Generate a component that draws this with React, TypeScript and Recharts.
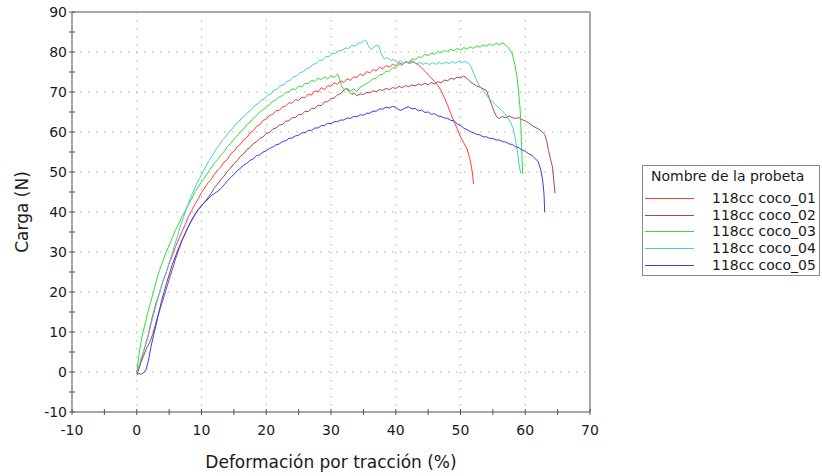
import { LineChart, Line, XAxis, YAxis, CartesianGrid, ReferenceLine } from "recharts";

// strain (%) , load (N) pairs
const coco01 = [
  [0, 0], [0.4, 1.5], [0.8, 3.6], [1.2, 6], [1.7, 8.8], [2.1, 11.8], [2.5, 14.4], [3, 17.4], [3.5, 19.8], [4, 22.5],
  [4.5, 24.6], [5, 27.2], [5.5, 29.1], [6, 31.4], [6.5, 33.3], [7, 35.1], [7.5, 36.9], [8, 38.9], [8.5, 40.4], [9, 42],
  [9.5, 43.3], [10, 44.9], [10.5, 46], [11, 47.3], [11.5, 48.1], [12, 49.5], [12.5, 50.5], [13, 51.3], [13.5, 52.5], [14, 53.1],
  [14.5, 54.5], [15, 55.2], [15.5, 56.3], [16, 56.9], [16.5, 58.1], [17, 58.6], [17.5, 59.8], [18, 60.3], [18.5, 61.4], [19, 61.8],
  [19.5, 62.9], [20, 63.2], [20.5, 64.1], [21, 64.4], [21.5, 65.3], [22, 65.4], [22.5, 66.3], [23, 66.5], [23.5, 67.3], [24, 67.2],
  [24.5, 68.1], [25, 67.9], [25.5, 68.7], [26, 68.6], [26.5, 69.5], [27, 69.2], [27.5, 70.3], [28, 70], [28.5, 71.1], [29, 70.6],
  [29.5, 71.6], [30, 71.4], [30.5, 72.3], [31, 71.9], [31.5, 72.8], [32, 72.4], [32.5, 73.3], [33, 72.9], [33.5, 73.8], [34, 73.6],
  [34.5, 74.5], [35, 74.1], [35.5, 75.1], [36, 74.8], [36.5, 75.6], [37, 75.3], [37.5, 76.2], [38, 75.8], [38.5, 76.6], [39, 76.2],
  [39.5, 76.9], [40, 76.6], [40.5, 77.3], [41, 76.9], [41.5, 77.6], [42, 77.2], [42.5, 77.8], [43, 77.3], [43.5, 76.8], [44, 76],
  [44.5, 75.2], [45, 74.3], [45.5, 73.5], [46, 72.6], [46.5, 71.6], [47, 70.4], [47.5, 68.6], [48, 66.7], [48.5, 64.6], [49, 62.6],
  [49.5, 60.8], [50, 58.8], [50.5, 57.3], [51, 55.8], [51.4, 53.6], [51.7, 51.2], [51.9, 49], [52, 47],
];

const coco02 = [
  [0, -0.5], [0.3, 0.5], [0.6, 2.2], [1, 3.8], [1.5, 5.9], [2, 7.4], [2.5, 9.6], [3, 12.6], [3.5, 15.2], [4, 17.8],
  [4.5, 20.4], [5, 23.1], [5.5, 25.6], [6, 28.3], [6.5, 30.6], [7, 32.9], [7.5, 34.6], [8, 36.5], [8.5, 38], [9, 39.5],
  [9.5, 40.6], [10, 41.6], [10.5, 42.5], [11, 43.6], [11.5, 44.7], [12, 46.1], [12.5, 47], [13, 48.1], [13.5, 49], [14, 50.2],
  [14.5, 51], [15, 52.1], [15.5, 52.8], [16, 53.9], [16.5, 54.5], [17, 55.6], [17.5, 56.1], [18, 57.1], [18.5, 57.5], [19, 58.4],
  [19.5, 58.8], [20, 59.6], [20.5, 59.9], [21, 60.7], [21.5, 61], [22, 61.7], [22.5, 61.9], [23, 62.7], [23.5, 62.8], [24, 63.6],
  [24.5, 63.6], [25, 64.4], [25.5, 64.4], [26, 65.2], [26.5, 65.1], [27, 65.9], [27.5, 65.9], [28, 66.7], [28.5, 66.6], [29, 67.5],
  [29.5, 67.6], [30, 68.4], [30.5, 68.5], [31, 69.3], [31.5, 69.6], [32, 70.5], [32.4, 70.9], [32.8, 70.1], [33.2, 69.4], [33.6, 69.7],
  [34, 69.1], [34.5, 69.5], [35, 69.4], [35.5, 69.9], [36, 69.8], [36.5, 70.3], [37, 70.1], [37.5, 70.6], [38, 70.4], [38.5, 70.9],
  [39, 70.6], [39.5, 71.1], [40, 70.9], [40.5, 71.4], [41, 71.1], [41.5, 71.6], [42, 71.3], [42.5, 71.8], [43, 71.5], [43.5, 72],
  [44, 71.7], [44.5, 72.2], [45, 71.8], [45.5, 72.4], [46, 72], [46.5, 72.6], [47, 72.3], [47.5, 73], [48, 72.8], [48.5, 73.4],
  [49, 73.2], [49.5, 73.7], [50, 73.5], [50.5, 74], [51, 73.4], [51.5, 72.6], [52, 72], [52.5, 71.5], [53, 71.2], [53.5, 70.8],
  [54, 70.4], [54.4, 68.6], [54.8, 66.8], [55.2, 65.1], [55.6, 63.8], [56, 63.4], [56.5, 63.9], [57, 63.5], [57.5, 64], [58, 63.6],
  [58.5, 63.4], [59, 63.6], [59.5, 63.1], [60, 62.8], [60.5, 62.3], [61, 61.7], [61.5, 61.2], [62, 60.8], [62.5, 60.2], [63, 59.4],
  [63.3, 57.8], [63.6, 55.4], [63.9, 53.2], [64.2, 51.3], [64.4, 48], [64.6, 44.7],
];

const coco03 = [
  [0, 0], [0.2, 2.5], [0.5, 6], [0.8, 8.8], [1.2, 11.5], [1.6, 14.2], [2, 16.6], [2.5, 19.5], [3, 22.6], [3.5, 25.4],
  [4, 27.6], [4.5, 29.8], [5, 31.7], [5.5, 33.6], [6, 35.6], [6.5, 37.1], [7, 38.9], [7.5, 40.3], [8, 42], [8.5, 43.3],
  [9, 45.1], [9.5, 46.2], [10, 47.6], [10.5, 48.6], [11, 49.9], [11.5, 51], [12, 52.2], [12.5, 53.1], [13, 54.3], [13.5, 55.1],
  [14, 56.4], [14.5, 57.1], [15, 58.2], [15.5, 59], [16, 60.1], [16.5, 60.7], [17, 61.9], [17.5, 62.4], [18, 63.5], [18.5, 64],
  [19, 65], [19.5, 65.6], [20, 66.4], [20.5, 66.8], [21, 67.7], [21.5, 68], [22, 68.8], [22.5, 69.1], [23, 69.9], [23.5, 70],
  [24, 70.8], [24.5, 70.6], [25, 71.5], [25.5, 71.2], [26, 72.2], [26.5, 72.1], [27, 73], [27.5, 72.6], [28, 73.4], [28.5, 73.1],
  [29, 73.8], [29.5, 73.3], [30, 74.1], [30.5, 73.6], [31, 74.5], [31.3, 73.4], [31.6, 71.5], [32, 70.6], [32.5, 70.9], [33, 70.3],
  [33.5, 70.8], [34, 70.1], [34.5, 71.2], [35, 71.6], [35.5, 72.1], [36, 72.6], [36.5, 73.3], [37, 73.4], [37.5, 74.3], [38, 74.4],
  [38.5, 75.2], [39, 75.2], [39.5, 76], [40, 76.1], [40.5, 76.8], [41, 76.7], [41.5, 77.5], [42, 77.4], [42.5, 78.3], [43, 78.1],
  [43.5, 78.8], [44, 78.6], [44.5, 79.4], [45, 79.1], [45.5, 79.7], [46, 79.4], [46.5, 80.1], [47, 79.8], [47.5, 80.4], [48, 80.1],
  [48.5, 80.7], [49, 80.3], [49.5, 80.9], [50, 80.5], [50.5, 81.1], [51, 80.7], [51.5, 81.3], [52, 80.9], [52.5, 81.5], [53, 81.2],
  [53.5, 81.8], [54, 81.4], [54.5, 82], [55, 81.6], [55.5, 82.2], [56, 81.8], [56.5, 82.3], [57, 81.7], [57.5, 80.9], [58, 79.5],
  [58.4, 76.8], [58.8, 73], [59, 69.5], [59.2, 66], [59.3, 62.5], [59.4, 58], [59.5, 53.5], [59.6, 49.5],
];

const coco04 = [
  [0, 0], [0.3, 1.3], [0.7, 3.5], [1.2, 5.8], [1.7, 8.5], [2.2, 11.8], [2.7, 14.9], [3.2, 18], [3.7, 20.8], [4.2, 23.3],
  [4.7, 25.7], [5.2, 28.3], [5.7, 31], [6.2, 33.5], [6.7, 36.2], [7.2, 38.6], [7.7, 41], [8.2, 43.1], [8.7, 45], [9.2, 46.9],
  [9.7, 48.4], [10.2, 50], [10.7, 51.5], [11.2, 52.9], [11.7, 54.2], [12.2, 55.6], [12.7, 56.6], [13.2, 57.9], [13.7, 58.7], [14.2, 59.9],
  [14.7, 60.7], [15.2, 61.8], [15.7, 62.4], [16.2, 63.5], [16.7, 64], [17.2, 65], [17.7, 65.6], [18.2, 66.6], [18.7, 67], [19.2, 67.9],
  [19.7, 68.3], [20.2, 69.2], [20.7, 69.5], [21.2, 70.5], [21.7, 70.7], [22.2, 71.6], [22.7, 71.8], [23.2, 72.7], [23.7, 72.9], [24.2, 73.8],
  [24.7, 74], [25.2, 74.9], [25.7, 75], [26.2, 75.9], [26.7, 76], [27.2, 76.9], [27.7, 77.1], [28.2, 77.9], [28.7, 78], [29.2, 78.8],
  [29.7, 78.9], [30.2, 79.6], [30.7, 79.7], [31.2, 80.3], [31.7, 80.4], [32.2, 81], [32.7, 80.9], [33.2, 81.6], [33.7, 81.5], [34.2, 82.2],
  [34.7, 82.3], [35.2, 83], [35.5, 82.6], [35.8, 81.4], [36.2, 80.6], [36.6, 81.2], [37, 81.7], [37.4, 81.5], [37.8, 79.4], [38.2, 78.3],
  [38.7, 78.6], [39.2, 77.9], [39.7, 78.1], [40.2, 77.4], [40.7, 77.8], [41.2, 77.2], [41.7, 77.6], [42.2, 77.1], [42.7, 77.5], [43.2, 77],
  [43.7, 77.4], [44.2, 76.9], [44.7, 77.3], [45.2, 76.8], [45.7, 77.3], [46.2, 76.9], [46.7, 77.4], [47.2, 77], [47.7, 77.5], [48.2, 77.1],
  [48.7, 77.6], [49.2, 77.2], [49.7, 77.7], [50.2, 77.3], [50.7, 77.6], [51.2, 77.2], [51.6, 76.4], [52, 74.8], [52.4, 73.2], [52.8, 71.9],
  [53.3, 70.7], [53.8, 69.6], [54.3, 68.6], [54.8, 67.8], [55.3, 67], [55.8, 66.2], [56.3, 65.5], [56.8, 64.7], [57.3, 63.6], [57.8, 62.2],
  [58.2, 60.5], [58.5, 58], [58.8, 55], [59, 52.3], [59.2, 50.5], [59.3, 49.7],
];

const coco05 = [
  [0, -0.8], [0.3, -0.3], [0.6, -0.6], [1, -0.2], [1.4, 0.4], [1.8, 2.8], [2.2, 6.3], [2.6, 9.2], [3, 11.8], [3.4, 14.8],
  [3.8, 17.6], [4.2, 19.9], [4.6, 22.2], [5, 24.3], [5.5, 26.9], [6, 29], [6.5, 31.1], [7, 33], [7.5, 34.8], [8, 36.4],
  [8.5, 38], [9, 39.3], [9.5, 40.6], [10, 41.5], [10.5, 42.5], [11, 43.2], [11.5, 44.1], [12, 44.6], [12.5, 45.2], [13, 45.9],
  [13.5, 46.8], [14, 47.8], [14.5, 48.6], [15, 49.4], [15.5, 50.3], [16, 50.9], [16.5, 51.7], [17, 52.2], [17.5, 52.9], [18, 53.3],
  [18.5, 54.1], [19, 54.3], [19.5, 55], [20, 55.3], [20.5, 55.9], [21, 56.2], [21.5, 56.8], [22, 57], [22.5, 57.6], [23, 57.8],
  [23.5, 58.4], [24, 58.5], [24.5, 59], [25, 59.2], [25.5, 59.8], [26, 59.8], [26.5, 60.4], [27, 60.4], [27.5, 61], [28, 61],
  [28.5, 61.6], [29, 61.6], [29.5, 62.2], [30, 62.1], [30.5, 62.6], [31, 62.6], [31.5, 63], [32, 63], [32.5, 63.5], [33, 63.4],
  [33.5, 63.9], [34, 63.8], [34.5, 64.3], [35, 64.2], [35.5, 64.7], [36, 64.7], [36.5, 65.2], [37, 65.2], [37.5, 65.8], [38, 65.7],
  [38.5, 66.2], [39, 66], [39.5, 66.4], [40, 66.2], [40.4, 65.6], [40.8, 65.4], [41.2, 65.8], [41.6, 66.1], [42, 66.3], [42.5, 65.8],
  [43, 65.9], [43.5, 65.3], [44, 65.5], [44.5, 64.9], [45, 65], [45.5, 64.4], [46, 64.6], [46.5, 64], [47, 63.9], [47.5, 63.5],
  [48, 63.4], [48.5, 62.9], [49, 62.8], [49.5, 62], [50, 61.6], [50.5, 61], [51, 60.6], [51.5, 60.1], [52, 59.8], [52.5, 59.4],
  [53, 59.3], [53.5, 58.8], [54, 58.8], [54.5, 58.4], [55, 58.4], [55.5, 58], [56, 58], [56.5, 57.6], [57, 57.5], [57.5, 57],
  [58, 56.9], [58.5, 56.3], [59, 56.1], [59.5, 55.5], [60, 55.2], [60.5, 54.6], [61, 54.2], [61.5, 53.4], [62, 52.6], [62.4, 50.5],
  [62.7, 47.8], [62.9, 44.5], [63, 40],
];

const seriesNames = ["118cc coco_01", "118cc coco_02", "118cc coco_03", "118cc coco_04", "118cc coco_05"];
const seriesColors = ["#ff3d3d", "#a84848", "#33e033", "#42d2cc", "#3838ff"];
const seriesPoints = [coco01, coco02, coco03, coco04, coco05];

const xTicks = [-10, -5, 0, 5, 10, 15, 20, 25, 30, 35, 40, 45, 50, 55, 60, 65, 70];
const yTicks = [-10, -5, 0, 5, 10, 15, 20, 25, 30, 35, 40, 45, 50, 55, 60, 65, 70, 75, 80, 85, 90];
const xGrid = [0, 10, 20, 30, 40, 50, 60];
const yGrid = [0, 10, 20, 30, 40, 50, 60, 70, 80];

const FONT = "'DejaVu Sans', Verdana, sans-serif";

const XTick = (props: any) => {
  const { x, y, payload } = props;
  return (
    <g>
      <line x1={x} x2={x} y1={y - 3} y2={y + 3} stroke="#555" strokeWidth={1} />
      {payload.value % 10 === 0 && (
        <text x={x} y={y + 23} textAnchor="middle" fontSize={14} fontFamily={FONT} fill="#1a1a1a">
          {payload.value}
        </text>
      )}
    </g>
  );
};

const YTick = (props: any) => {
  const { x, y, payload } = props;
  return (
    <g>
      <line x1={x - 3} x2={x + 3} y1={y} y2={y} stroke="#555" strokeWidth={1} />
      {payload.value % 10 === 0 && (
        <text x={x - 5} y={y + 5} textAnchor="end" fontSize={14} fontFamily={FONT} fill="#1a1a1a">
          {payload.value}
        </text>
      )}
    </g>
  );
};

export default function App() {
  const lines = seriesPoints.map((pts) => pts.map(([x, y]) => ({ x, y })));

  return (
    <div style={{ position: "absolute", left: 0, top: 0, width: 822, height: 476, background: "#fff" }}>
      <LineChart width={822} height={476} margin={{ top: 12, right: 232, left: 22, bottom: 0 }}>
        <CartesianGrid
          stroke="#b8b0a0"
          strokeDasharray="1.5 6.5"
          horizontalValues={yGrid}
          verticalValues={xGrid}
        />
        <XAxis
          type="number"
          dataKey="x"
          domain={[-10, 70]}
          ticks={xTicks}
          interval={0}
          height={64}
          tickSize={0}
          tickMargin={0}
          tickLine={false}
          tick={<XTick />}
          axisLine={{ stroke: "#8a8a8a", strokeWidth: 1.5 }}
          allowDataOverflow
          label={{
            value: "Deformación por tracción (%)",
            position: "insideBottom",
            offset: 8,
            style: { fontSize: 17, fontFamily: FONT, fill: "#1a1a1a" },
          }}
        />
        <YAxis
          type="number"
          domain={[-10, 90]}
          ticks={yTicks}
          interval={0}
          width={50}
          tickSize={0}
          tickMargin={0}
          tickLine={false}
          tick={<YTick />}
          axisLine={{ stroke: "#8a8a8a", strokeWidth: 1.5 }}
          allowDataOverflow
          label={{
            value: "Carga (N)",
            angle: -90,
            position: "insideLeft",
            offset: 0,
            style: { fontSize: 17, fontFamily: FONT, fill: "#1a1a1a", textAnchor: "middle" },
          }}
        />
        <ReferenceLine y={90} stroke="#a8a8a8" strokeWidth={2} />
        <ReferenceLine x={70} stroke="#a8a8a8" strokeWidth={2} />
        {lines.map((data, i) => (
          <Line
            key={seriesNames[i]}
            data={data}
            dataKey="y"
            type="linear"
            stroke={seriesColors[i]}
            strokeWidth={1}
            dot={false}
            activeDot={false}
            isAnimationActive={false}
          />
        ))}
      </LineChart>
      <div
        style={{
          position: "absolute",
          left: 642,
          top: 165,
          width: 178,
          height: 111,
          border: "1px solid #8a8a8a",
          fontFamily: FONT,
          fontSize: 14,
          color: "#1a1a1a",
          boxSizing: "border-box",
        }}
      >
        <div style={{ position: "absolute", left: 8, top: 2, whiteSpace: "nowrap" }}>Nombre de la probeta</div>
        {seriesNames.map((name, i) => (
          <div key={name} style={{ position: "absolute", left: 2, top: 24 + i * 16.7, height: 17, whiteSpace: "nowrap" }}>
            <span
              style={{
                position: "absolute",
                left: 0,
                top: 8,
                width: 49,
                height: 0,
                borderTop: `1px solid ${seriesColors[i]}`,
              }}
            />
            <span style={{ position: "absolute", left: 67, top: 0 }}>{name}</span>
          </div>
        ))}
      </div>
    </div>
  );
}
